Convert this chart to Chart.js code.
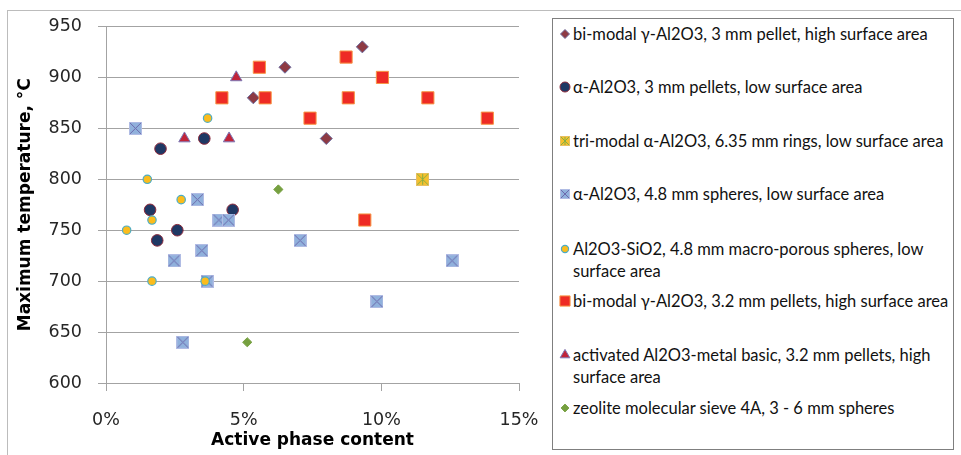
<!DOCTYPE html>
<html>
<head>
<meta charset="utf-8">
<script src="https://cdn.jsdelivr.net/npm/chart.js@4.4.1/dist/chart.umd.min.js"></script>
<style>
html, body { margin: 0; padding: 0; background: #fff; }
#wrap { position: relative; width: 961px; height: 455px; overflow: hidden; }
#frame { position: absolute; left: 7px; top: 10px; width: 980px; height: 470px; border-top: 1px solid #bcbcbc; border-left: 1px solid #bcbcbc; }
#chart { position: absolute; left: 0; top: 0; }
#legend { position: absolute; left: 552px; top: 18px; width: 402px; height: 432px; border: 1px solid #7f7f7f; box-sizing: border-box; background: #fff;
  font-family: Lato, "Open Sans", sans-serif; font-size: 16.5px; color: #111; }
.item { position: absolute; left: 0; white-space: nowrap; line-height: 22px; }
.item canvas { position: absolute; left: 4px; top: 3px; }
.item .txt { position: absolute; left: 20px; top: 0; }
</style>
</head>
<body>
<div id="wrap">
  <div id="frame"></div>
  <canvas id="chart" width="961" height="455"></canvas>
  <div id="legend"></div>
</div>
<script>
// series names (legend order)
const seriesNames = [
  ['bi-modal γ-Al2O3, 3 mm pellet, high surface area'],
  ['α-Al2O3, 3 mm pellets, low surface area'],
  ['tri-modal α-Al2O3, 6.35 mm rings, low surface area'],
  ['α-Al2O3, 4.8 mm spheres, low surface area'],
  ['Al2O3-SiO2, 4.8 mm macro-porous spheres, low', 'surface area'],
  ['bi-modal γ-Al2O3, 3.2 mm pellets, high surface area'],
  ['activated Al2O3-metal basic, 3.2 mm pellets, high', 'surface area'],
  ['zeolite molecular sieve 4A, 3 - 6 mm spheres']
];

// active phase content (%) and maximum temperature (°C) per series
const bimodal3X   = [5.35, 6.5, 8.0, 9.31];
const bimodal3Y   = [880, 910, 840, 930];
const alpha3X     = [1.98, 3.57, 1.6, 4.6, 2.59, 1.86];
const alpha3Y     = [830, 840, 770, 770, 750, 740];
const trimodalX   = [11.5];
const trimodalY   = [800];
const alpha48X    = [1.07, 3.32, 4.1, 4.45, 3.48, 2.47, 3.67, 2.79, 7.05, 9.84, 12.57];
const alpha48Y    = [850, 780, 760, 760, 730, 720, 700, 640, 740, 680, 720];
const silicaX     = [3.69, 1.5, 2.73, 1.67, 0.75, 1.67, 3.6];
const silicaY     = [860, 800, 780, 760, 750, 700, 700];
const bimodal32X  = [4.21, 5.57, 5.78, 7.41, 8.72, 8.8, 9.4, 10.04, 11.69, 13.85];
const bimodal32Y  = [880, 910, 880, 860, 920, 880, 760, 900, 880, 860];
const activatedX  = [4.73, 2.85, 4.47];
const activatedY  = [900, 840, 840];
const zeoliteX    = [5.13, 6.26];
const zeoliteY    = [640, 790];

const xTicks = [0, 5, 10, 15];
const yMin = 600, yMax = 950, yStep = 50;

const seriesX = [bimodal3X, alpha3X, trimodalX, alpha48X, silicaX, bimodal32X, activatedX, zeoliteX];
const seriesY = [bimodal3Y, alpha3Y, trimodalY, alpha48Y, silicaY, bimodal32Y, activatedY, zeoliteY];

function boxMarker(side, fill, edge, cross, star) {
  const c = document.createElement('canvas');
  c.width = side; c.height = side;
  const g = c.getContext('2d');
  g.fillStyle = fill;
  g.fillRect(0, 0, side, side);
  g.strokeStyle = edge;
  g.lineWidth = 1;
  g.strokeRect(0.5, 0.5, side - 1, side - 1);
  g.strokeStyle = cross;
  g.beginPath();
  g.moveTo(1, 1); g.lineTo(side - 1, side - 1);
  g.moveTo(side - 1, 1); g.lineTo(1, side - 1);
  if (star) { g.moveTo(side / 2, 1); g.lineTo(side / 2, side - 1); }
  g.stroke();
  return c;
}

// marker looks: chart size and legend size
const looks = [
  { style: 'rectRot',  r: 6,   lr: 4.5, fill: '#8e3a44', edge: '#6b6a9c', bw: 1 },
  { style: 'circle',   r: 5.8, lr: 5,   fill: '#1f3864', edge: '#8c2a3c', bw: 1 },
  { style: boxMarker(13, '#f5c02c', '#e8c060', '#86ae45', true), legend: boxMarker(10, '#f5c02c', '#e8c060', '#86ae45', true) },
  { style: boxMarker(13, '#90b1dc', '#b0bce4', '#6c69ac', false), legend: boxMarker(10, '#90b1dc', '#b0bce4', '#6c69ac', false) },
  { style: 'circle',   r: 4.2, lr: 3.6, fill: '#fbbc1c', edge: '#4bacc6', bw: 1.2 },
  { style: 'rect',     r: 8.6, lr: 7.2, fill: '#ee2b25', edge: '#f79646', bw: 1 },
  { style: 'triangle', r: 6.6, lr: 5.6, fill: '#c0243a', edge: '#7c78b6', bw: 1 },
  { style: 'rectRot',  r: 4.6, lr: 3.9, fill: '#76a040', edge: '#76a040', bw: 1 }
];

const datasets = seriesNames.map((name, i) => {
  const lk = looks[i];
  const isImg = typeof lk.style !== 'string';
  return {
    label: name.join(' '),
    data: seriesX[i].map((x, k) => ({ x: x, y: seriesY[i][k] })),
    pointStyle: lk.style,
    pointRadius: isImg ? 7 : lk.r,
    pointBackgroundColor: lk.fill || '#000',
    pointBorderColor: lk.edge || '#000',
    pointBorderWidth: lk.bw || 0,
    order: -i
  };
});

const ctx = document.getElementById('chart').getContext('2d');
const tickFont = { family: 'DejaVu Sans', size: 17.5 };
const titleFont = { family: 'DejaVu Sans', size: 17, weight: 'bold' };
const gridGray = '#a3a3a3';

new Chart(ctx, {
  type: 'scatter',
  data: { datasets: datasets },
  options: {
    responsive: false,
    animation: false,
    devicePixelRatio: 1,
    layout: { padding: { top: 24, right: 442, bottom: 0, left: 0 } },
    plugins: { legend: { display: false }, tooltip: { enabled: false } },
    scales: {
      x: {
        type: 'linear',
        min: xTicks[0],
        max: xTicks[xTicks.length - 1],
        afterBuildTicks: s => { s.ticks = xTicks.map(v => ({ value: v })); },
        ticks: { callback: v => v + '%', color: '#262626', font: tickFont, padding: 19, maxRotation: 0, autoSkip: false },
        grid: { drawOnChartArea: false, drawTicks: true, tickLength: 8, color: gridGray },
        border: { color: gridGray },
        title: { display: true, text: 'Active phase content', color: '#000', font: titleFont, padding: { top: 0, bottom: 4 } },
        afterFit: s => { s.height = 72; }
      },
      y: {
        min: yMin,
        max: yMax,
        ticks: { stepSize: yStep, color: '#262626', font: tickFont, padding: 16 },
        grid: { color: gridGray, tickLength: 8 },
        border: { color: gridGray },
        title: { display: true, text: 'Maximum temperature, °C', color: '#000', font: titleFont, padding: { top: 15, bottom: 0 } },
        afterFit: s => { s.width = 106; }
      }
    }
  }
});

// legend
const legendTops = [4, 57, 111, 164, 219, 271, 325, 378];
const legend = document.getElementById('legend');
seriesNames.forEach((name, i) => {
  const lk = looks[i];
  const item = document.createElement('div');
  item.className = 'item';
  item.style.top = legendTops[i] + 'px';
  const c = document.createElement('canvas');
  c.width = 16; c.height = 16;
  const g = c.getContext('2d');
  if (lk.legend) {
    g.drawImage(lk.legend, 8 - lk.legend.width / 2, 8 - lk.legend.height / 2);
  } else {
    g.fillStyle = lk.fill;
    g.strokeStyle = lk.edge;
    g.lineWidth = lk.bw;
    Chart.helpers.drawPoint(g, { pointStyle: lk.style, radius: lk.lr, rotation: 0, borderWidth: lk.bw }, 8, 8);
  }
  item.appendChild(c);
  const t = document.createElement('div');
  t.className = 'txt';
  t.innerHTML = name.join('<br>');
  item.appendChild(t);
  legend.appendChild(item);
});
</script>
</body>
</html>
